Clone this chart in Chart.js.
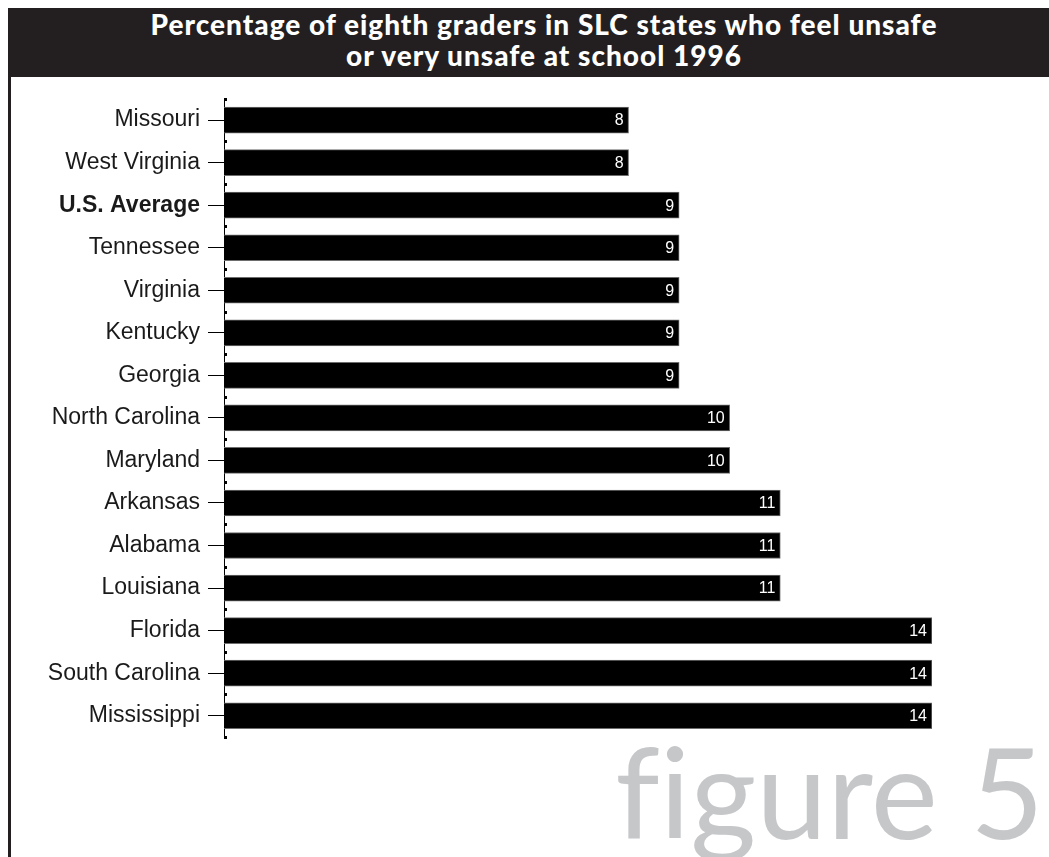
<!DOCTYPE html>
<html>
<head>
<meta charset="utf-8">
<script src="https://cdn.jsdelivr.net/npm/chart.js@4.4.1/dist/chart.umd.min.js"></script>
<style>
  html, body { margin: 0; padding: 0; background: #fff; }
  body { width: 1049px; height: 857px; position: relative; overflow: hidden; }
  #header {
    position: absolute; left: 8px; top: 8px; width: 1041px; height: 69px;
    background: #231f20; color: #fff;
  }
  #header div {
    position: absolute; left: 0; width: 1072px; text-align: center;
    font-family: "Lato", sans-serif; font-weight: 900; font-size: 28px;
    letter-spacing: 1px; white-space: nowrap; line-height: normal;
  }
  #leftRule { position: absolute; left: 8px; top: 77px; width: 3px; height: 780px; background: #231f20; }
  #chartBox { position: absolute; left: 0; top: 77px; width: 1049px; height: 780px; }
  #figLabel {
    position: absolute; right: 5px; top: 727px;
    font-family: "Lato", sans-serif; font-size: 127px; color: #c6c7c9;
    font-variant-ligatures: none; line-height: 1; white-space: nowrap;
  }
</style>
</head>
<body>
<div id="header">
  <div style="top: -1px;">Percentage of eighth graders in SLC states who feel unsafe</div>
  <div style="top: 30px;">or very unsafe at school 1996</div>
</div>
<div id="leftRule"></div>
<div id="figLabel">figure 5</div>
<div id="chartBox"><canvas id="unsafeChart"></canvas></div>

<script>
const states = ['Missouri', 'West Virginia', 'U.S. Average', 'Tennessee', 'Virginia', 'Kentucky', 'Georgia',
    'North Carolina', 'Maryland', 'Arkansas', 'Alabama', 'Louisiana', 'Florida', 'South Carolina', 'Mississippi'];
const percentUnsafe = [8, 8, 9, 9, 9, 9, 9, 10, 10, 11, 11, 11, 14, 14, 14];
const highlightLabel = 'U.S. Average';

// white value printed at the end of each bar
const barValues = {
    id: 'barValues',
    afterDatasetsDraw(chart) {
        const ctx = chart.ctx;
        const meta = chart.getDatasetMeta(0);
        ctx.save();
        ctx.fillStyle = '#fff';
        ctx.font = '16px "Liberation Sans", Arial, sans-serif';
        ctx.textAlign = 'right';
        ctx.textBaseline = 'middle';
        meta.data.forEach((bar, i) => {
            ctx.fillText(String(percentUnsafe[i]), bar.x - 5, bar.y + 1);
        });
        ctx.restore();
    }
};

// small marks on the inside of the axis between categories
const bandMarks = {
    id: 'bandMarks',
    afterDraw(chart) {
        const y = chart.scales.y;
        const ctx = chart.ctx;
        ctx.save();
        ctx.fillStyle = '#000';
        for (let i = 0; i <= states.length; i++) {
            const py = Math.round(y.getPixelForValue(i - 0.5));
            ctx.fillRect(chart.chartArea.left, py - 1, 3, 3);
        }
        ctx.restore();
    }
};

new Chart(document.getElementById('unsafeChart').getContext('2d'), {
    type: 'bar',
    data: {
        labels: states,
        datasets: [{
            data: percentUnsafe,
            backgroundColor: '#000',
            borderColor: '#6d6d6d',
            borderWidth: 1,
            borderSkipped: 'left',
            barThickness: 26
        }]
    },
    options: {
        indexAxis: 'y',
        responsive: true,
        maintainAspectRatio: false,
        animation: false,
        layout: { padding: { left: 0, right: 117, top: 17, bottom: 120 } },
        plugins: {
            legend: { display: false },
            tooltip: { enabled: false }
        },
        scales: {
            x: {
                display: false,
                min: 0,
                max: 14
            },
            y: {
                afterFit(scale) { scale.width = 224; },
                border: { display: true, color: '#000', width: 1 },
                grid: {
                    display: true,
                    drawOnChartArea: false,
                    offset: false,
                    tickLength: 16,
                    color: '#000'
                },
                ticks: {
                    padding: 8,
                    color: '#1a1a1a',
                    font: ctx => ({
                        family: '"Liberation Sans", Arial, sans-serif',
                        size: 23,
                        weight: states[ctx.index] === highlightLabel ? 'bold' : 'normal'
                    })
                }
            }
        }
    },
    plugins: [barValues, bandMarks]
});
</script>
</body>
</html>
